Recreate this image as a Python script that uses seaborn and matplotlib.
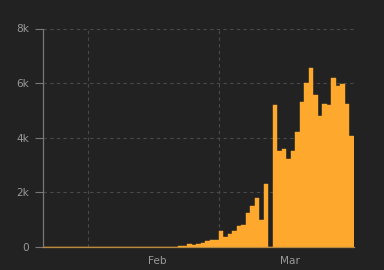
import matplotlib
matplotlib.use("Agg")
import matplotlib.pyplot as plt
import seaborn as sns
import pandas as pd
import numpy as np

# Daily new cases, Jan 22 .. Mar 30 (2020)
dates = pd.date_range("2020-01-22", "2020-03-30", freq="D")
new_cases = [0, 0, 0, 0, 0, 0, 0, 0, 0, 2,            # Jan 22-31
             0, 0, 0, 0, 0, 0, 1, 0, 0, 0,            # Feb 1-10
             0, 0, 0, 0, 0, 0, 0, 0, 0, 0,            # Feb 11-20
             17, 42, 93, 74, 93, 131, 202, 233, 240,  # Feb 21-29
             566, 342, 466, 587, 769, 778, 1247, 1492, 1797, 977,   # Mar 1-10
             2313, 0, 5198, 3497, 3590, 3233, 3526, 4207, 5322, 5986,  # Mar 11-20
             6557, 5560, 4789, 5249, 5210, 6203, 5909, 5974, 5217, 4050]  # Mar 21-30
month_starts = ["2020-02-01", "2020-03-01"]
month_labels = ["Feb", "Mar"]
y_ticks = [0, 2000, 4000, 6000, 8000]
y_labels = ["0", "2k", "4k", "6k", "8k"]

BG = "#222222"
BAR = "#FFA82E"

df = pd.DataFrame({"day": np.arange(len(dates)), "cases": new_cases})

sns.set_style("dark")
fig = plt.figure(figsize=(3.84, 2.70), dpi=100, facecolor=BG)
ax = fig.add_axes([43.3 / 384, 23.3 / 270, 310.7 / 384, 218.2 / 270])
ax.set_facecolor(BG)

sns.barplot(data=df, x="day", y="cases", color=BAR, width=1.0, saturation=1,
            edgecolor=BAR, linewidth=0.3, native_scale=True, ax=ax)

ax.set_xlim(-0.5, len(dates) - 0.5)
ax.set_ylim(0, 8000)

# month boundaries in bar coordinates (left bar edge)
idx = [int((pd.Timestamp(m) - dates[0]).days) - 0.5 for m in month_starts]
ax.set_xticks(idx)
ax.set_xticklabels([])
ax.set_xticks([24.9, 54.2], minor=True)
ax.set_xticklabels(month_labels, minor=True)
ax.tick_params(axis="x", which="major", length=5, width=0.8, color="#777777", direction="out")
ax.tick_params(axis="x", which="minor", length=0, pad=7, labelsize=7.6, labelcolor="#999999")

ax.set_yticks(y_ticks)
ax.set_yticklabels(y_labels)
ax.tick_params(axis="y", length=6, width=0.8, color="#777777", pad=4,
               labelsize=7.6, labelcolor="#999999", left=True)

ax.grid(True, which="major", color="#4a4a4a", linestyle=(0, (3, 3)), linewidth=0.8)
ax.set_axisbelow(True)

for s in ["top", "right"]:
    ax.spines[s].set_visible(False)
ax.spines["left"].set_color("#777777")
ax.spines["left"].set_linewidth(0.9)
ax.spines["bottom"].set_color("#b88a40")
ax.spines["bottom"].set_linewidth(0.9)

ax.set_xlabel("")
ax.set_ylabel("")

fig.savefig("out.png", dpi=100, facecolor=BG)
